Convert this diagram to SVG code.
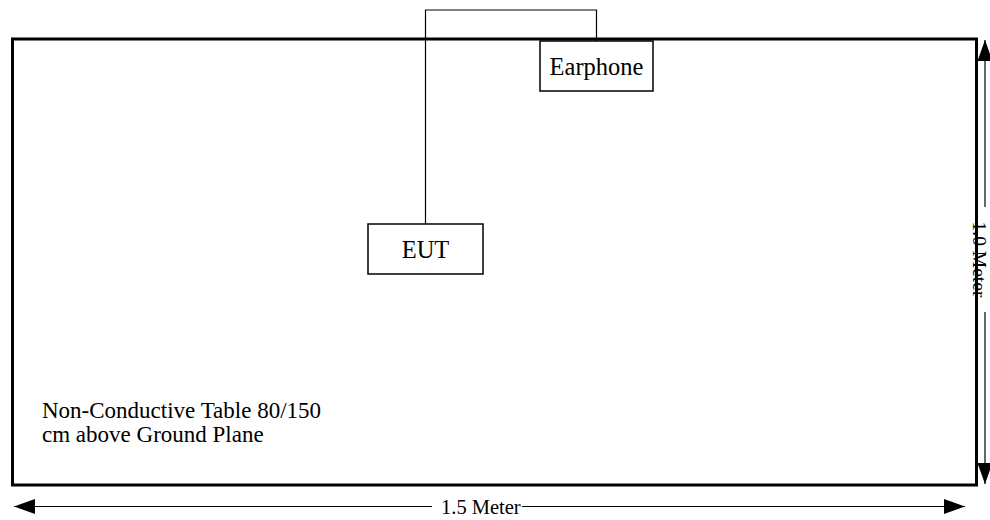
<svg xmlns="http://www.w3.org/2000/svg" width="990" height="520" viewBox="0 0 990 520">
<style>
.t{font-family:"Liberation Serif","Times New Roman",serif;fill:#000}
.box{fill:#fff;stroke:#000;stroke-width:1.5}
.ln{fill:none;stroke:#000;stroke-width:1.2}
</style>
<defs>
<marker id="ah" viewBox="0 0 21 15" refX="21" refY="7.5" markerWidth="21" markerHeight="15" markerUnits="userSpaceOnUse" orient="auto-start-reverse">
<path d="M0,0 L21,7.5 L0,15 Z" fill="#000"/>
</marker>
</defs>
<rect id="table" x="12.5" y="39" width="964" height="446" fill="#fff" stroke="#000" stroke-width="3"/>
<g id="connectors">
<polyline class="ln" points="425.5,224 425.5,10 596.5,10 596.5,41"/>
<line class="ln" x1="14" y1="506.5" x2="432" y2="506.5" marker-start="url(#ah)"/>
<line class="ln" x1="522" y1="506.5" x2="965" y2="506.5" marker-end="url(#ah)"/>
<line class="ln" x1="985" y1="40" x2="985" y2="207" marker-start="url(#ah)"/>
<line class="ln" x1="985" y1="312" x2="985" y2="484" marker-end="url(#ah)"/>
</g>
<g id="earphone">
<rect class="box" x="540" y="41" width="113" height="50"/>
<text class="t" x="596.5" y="74.5" font-size="24.5" text-anchor="middle">Earphone</text>
</g>
<g id="eut">
<rect class="box" x="368" y="224" width="115" height="50"/>
<text class="t" x="425.5" y="258" font-size="24.5" text-anchor="middle">EUT</text>
</g>
<g id="labels">
<text class="t" x="42" y="418" font-size="23">Non-Conductive Table 80/150</text>
<text class="t" x="42" y="442" font-size="23">cm above Ground Plane</text>
<text class="t" x="441" y="514" font-size="20.5">1.5 Meter</text>
<text class="t" transform="translate(972.5,259.5) rotate(90)" font-size="19.5" text-anchor="middle">1.0 Meter</text>
</g>
</svg>
